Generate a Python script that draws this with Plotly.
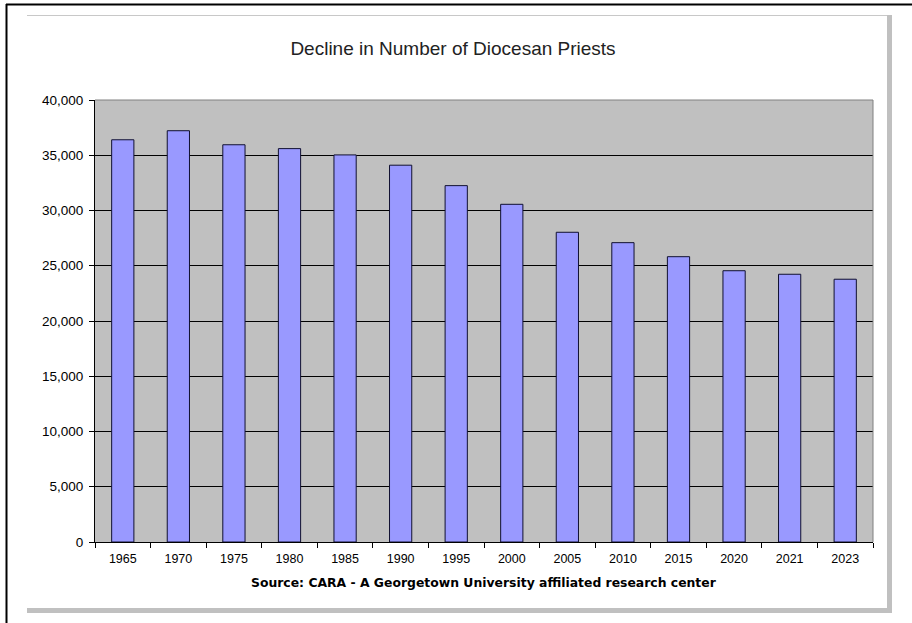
import plotly.graph_objects as go

years = ["1965", "1970", "1975", "1980", "1985", "1990", "1995", "2000",
         "2005", "2010", "2015", "2020", "2021", "2023"]
priests = [36400, 37220, 35950, 35600, 35030, 34100, 32250, 30560,
           28030, 27090, 25820, 24550, 24230, 23780]
y_ticks = [0, 5000, 10000, 15000, 20000, 25000, 30000, 35000, 40000]
title_text = "Decline in Number of Diocesan Priests"
source_text = "Source: CARA - A Georgetown University affiliated research center"

W, H = 912, 623
L, R, T, B = 95, 873, 100, 542


def px(x):
    return (x - L) / (R - L)


def py(y):
    return (B - y) / (B - T)


fig = go.Figure(go.Bar(
    x=years, y=priests,
    marker=dict(color="#9999FF", line=dict(color="#101030", width=1)),
))

shapes = [
    dict(type="line", xref="paper", yref="paper", x0=0, x1=1, y0=1, y1=1,
         line=dict(color="#808080", width=1), layer="above"),
    dict(type="line", xref="paper", yref="paper", x0=1, x1=1, y0=0, y1=1,
         line=dict(color="#808080", width=1), layer="above"),
    dict(type="line", xref="paper", yref="paper", x0=px(6), x1=px(913), y0=py(4.5), y1=py(4.5),
         line=dict(color="#000000", width=2)),
    dict(type="line", xref="paper", yref="paper", x0=px(6.5), x1=px(6.5), y0=py(4), y1=py(624),
         line=dict(color="#000000", width=2)),
    dict(type="line", xref="paper", yref="paper", x0=px(27), x1=px(887), y0=py(15.5), y1=py(15.5),
         line=dict(color="#c8c8c8", width=1)),
    dict(type="rect", xref="paper", yref="paper", x0=px(887), x1=px(892), y0=py(15), y1=py(613),
         fillcolor="#c0c0c0", line=dict(width=0)),
    dict(type="rect", xref="paper", yref="paper", x0=px(27), x1=px(892), y0=py(608), y1=py(613),
         fillcolor="#c0c0c0", line=dict(width=0)),
]

fig.update_layout(
    width=W, height=H, autosize=False,
    margin=dict(l=L, r=W - R, t=T, b=H - B, pad=0),
    paper_bgcolor="#ffffff",
    plot_bgcolor="#C0C0C0",
    bargap=0.6,
    showlegend=False,
    shapes=shapes,
    title=dict(text=title_text, x=453 / W, xref="container", xanchor="center",
               y=1 - 48 / H, yref="container", yanchor="middle",
               font=dict(family="Liberation Sans, Arial", size=19, color="#222222")),
    annotations=[dict(text="<b>" + source_text + "</b>", xref="paper", yref="paper",
                      x=0.5, y=py(582), xanchor="center", yanchor="middle", showarrow=False,
                      font=dict(family="DejaVu Sans, Verdana", size=12.4, color="#000000"))],
    font=dict(family="Liberation Sans, Arial", size=12, color="#000000"),
)

fig.update_xaxes(
    type="category", showline=True, linecolor="#000000", linewidth=1,
    ticks="outside", ticklen=5, tickcolor="#000000", tickson="boundaries",
    showgrid=False, ticklabelstandoff=5,
    tickfont=dict(size=12.5, color="#000000"),
)
fig.update_yaxes(
    range=[0, 40000], tickvals=y_ticks, tickformat=",d",
    showline=True, linecolor="#000000", linewidth=1,
    ticks="outside", ticklen=5, tickcolor="#000000",
    showgrid=True, gridcolor="#000000", gridwidth=1, zeroline=False,
    ticklabelstandoff=3,
    tickfont=dict(size=13.5, color="#000000"),
)

fig.write_html("out.html", config={"displayModeBar": False},
               post_script="document.body.style.margin='0px';")
